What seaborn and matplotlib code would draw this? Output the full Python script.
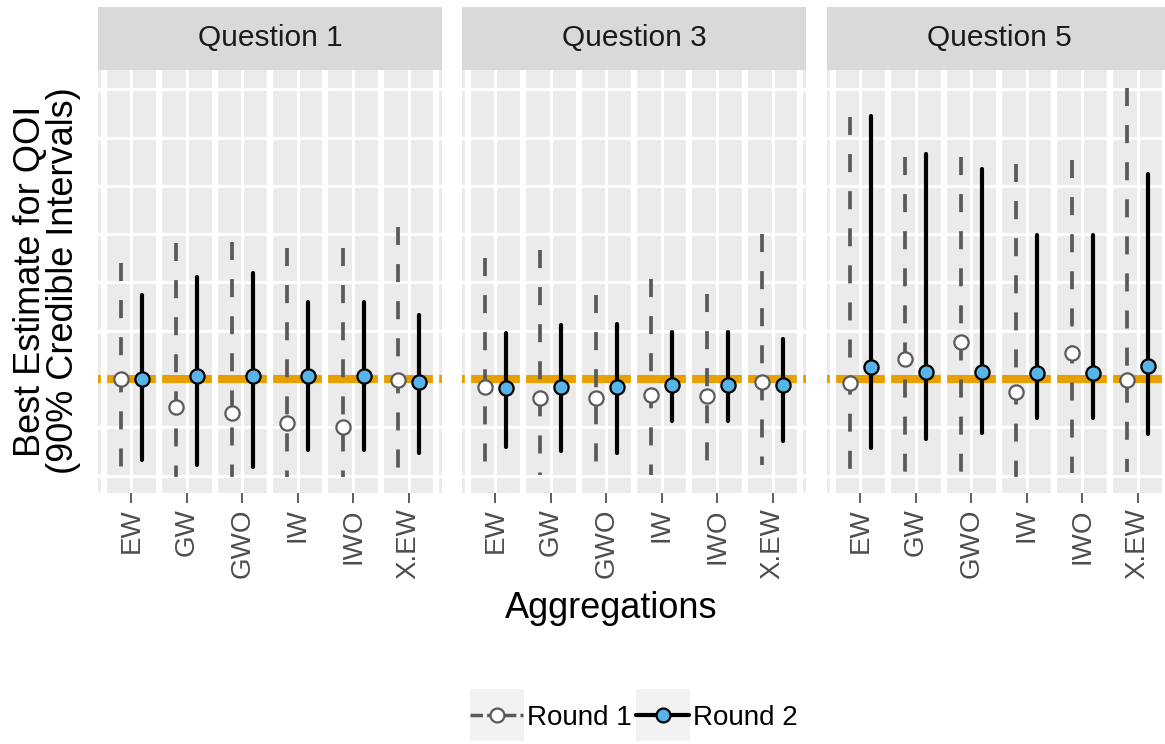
import numpy as np
import pandas as pd
import seaborn as sns
import matplotlib.pyplot as plt
from matplotlib.lines import Line2D
from matplotlib.patches import Rectangle

# data (units: gridline spacing, truth at 0)
questions = ["Question 1", "Question 3", "Question 5"]
aggs = ["EW", "GW", "GWO", "IW", "IWO", "X.EW"]
truth = [0.0, 0.0, 0.0]

r1_est = [[0.01, -0.57, -0.70, -0.90, -0.99, -0.02],
          [-0.16, -0.39, -0.39, -0.33, -0.35, -0.06],
          [-0.08, 0.41, 0.77, -0.26, 0.54, -0.02]]
r1_lo = [[-1.88, -2.03, -2.03, -2.03, -2.03, -1.84],
         [-1.82, -1.99, -1.99, -1.99, -1.99, -1.78],
         [-1.95, -1.99, -1.99, -2.02, -1.95, -1.92]]
r1_hi = [[2.40, 2.82, 2.84, 2.71, 2.71, 3.15],
         [2.50, 2.67, 1.74, 2.07, 1.77, 3.00],
         [5.42, 4.59, 4.60, 4.45, 4.54, 6.02]]

r2_est = [[0.00, 0.06, 0.06, 0.06, 0.06, -0.06],
          [-0.19, -0.17, -0.17, -0.12, -0.12, -0.12],
          [0.24, 0.15, 0.15, 0.12, 0.12, 0.27]]
r2_lo = [[-1.68, -1.78, -1.82, -1.47, -1.47, -1.53],
         [-1.40, -1.50, -1.53, -0.86, -0.86, -1.28],
         [-1.43, -1.25, -1.11, -0.81, -0.81, -1.13]]
r2_hi = [[1.74, 2.12, 2.19, 1.60, 1.60, 1.33],
         [0.95, 1.12, 1.15, 0.98, 0.98, 0.82],
         [5.45, 4.66, 4.34, 2.98, 2.98, 4.24]]

ORANGE = "#EA9F00"
BLUE = "#56B4E9"
GRAY = "#5A5A5A"

rows = []
for qi, q in enumerate(questions):
    for rnd, est, lo, hi in [("Round 1", r1_est, r1_lo, r1_hi), ("Round 2", r2_est, r2_lo, r2_hi)]:
        for ai, a in enumerate(aggs):
            rows.append(dict(question=q, round=rnd, agg=a, est=est[qi][ai],
                             lo=lo[qi][ai], hi=hi[qi][ai], truth=truth[qi]))
df = pd.DataFrame(rows)
agg_pos = {a: i for i, a in enumerate(aggs)}
offsets = {"Round 1": -0.19, "Round 2": 0.19}
df["xpos"] = df["agg"].map(agg_pos) + df["round"].map(offsets)

sns.set_style("darkgrid", {"axes.facecolor": "#EBEBEB", "grid.color": "white"})
plt.rcParams['font.family'] = ['Liberation Sans', 'DejaVu Sans']
plt.rcParams['lines.scale_dashes'] = False


def draw_panel(data, **kws):
    ax = plt.gca()
    ax.axhline(data["truth"].iloc[0], color=ORANGE, lw=5.8, zorder=1.5)
    for b in np.arange(-0.5, len(aggs), 1):
        ax.axvline(b, color="white", lw=4.5, zorder=1.8)
    r1 = data[data["round"] == "Round 1"]
    r2 = data[data["round"] == "Round 2"]
    for x, lo, hi in zip(r1["xpos"], r1["lo"], r1["hi"]):
        ax.plot([x, x], [hi, lo], color=GRAY, lw=2.7, ls=(0, (13, 13.7)), zorder=2)
    for x, lo, hi in zip(r2["xpos"], r2["lo"], r2["hi"]):
        ax.plot([x, x], [hi, lo], color="black", lw=3.0, zorder=2.1)
    sns.scatterplot(data=r1, x="xpos", y="est", color="white", edgecolor=GRAY,
                    linewidth=1.6, s=105, zorder=3, ax=ax)
    sns.scatterplot(data=r2, x="xpos", y="est", color=BLUE, edgecolor="black",
                    linewidth=1.6, s=105, zorder=3, ax=ax)


g = sns.FacetGrid(df, col="question", col_order=questions, sharey=True, sharex=True)
g.map_dataframe(draw_panel)
g.set_titles("")
g.set_axis_labels("", "")

fig = g.figure
fig.set_size_inches(11.65, 7.44)
fig.set_dpi(100)
W, H = 1165, 744
lefts = [98, 462, 827]
for ax, left, q in zip(g.axes.flat, lefts, questions):
    ax.set_position([left / W, (H - 493) / H, 344 / W, 423 / H])
    ax.set_xlim(-0.6, len(aggs) - 0.4)
    ax.set_ylim(-2.36, 6.40)
    ax.set_yticks(range(-2, 7))
    ax.set_xticks(range(len(aggs)))
    ax.set_xticklabels(aggs, rotation=90)
    ax.grid(True, color="white", lw=2.2)
    ax.tick_params(axis="y", left=False, labelleft=False)
    ax.tick_params(axis="x", bottom=True, length=7, width=1.1, color="#333333",
                   labelcolor="#4D4D4D", labelsize=20, pad=4)
    for s in ax.spines.values():
        s.set_visible(False)
    ax.set_xlabel("")
    ax.set_ylabel("")
    strip_h = 63 / 423
    ax.add_patch(Rectangle((0, 1), 1, strip_h, transform=ax.transAxes,
                           facecolor="#D9D9D9", edgecolor="none", clip_on=False))
    ax.text(0.5, 1 + strip_h / 2, q, transform=ax.transAxes, ha="center",
            va="center", fontsize=21.5, color="#1A1A1A")

fig.text(611 / W, 1 - 608 / H, "Aggregations", ha="center", va="center",
         fontsize=26, color="black")
fig.text(47 / W, 1 - 281 / H, "Best Estimate for QOI\n(90% Credible Intervals)",
         rotation=90, ha="center", va="center", fontsize=26, linespacing=0.95,
         color="black")

handles = [
    Line2D([], [], color=GRAY, lw=2.5, ls=(0, (9, 3)), marker="o", markersize=10,
           markerfacecolor="white", markeredgecolor=GRAY, markeredgewidth=1.6),
    Line2D([], [], color="black", lw=3.0, marker="o", markersize=10,
           markerfacecolor=BLUE, markeredgecolor="black", markeredgewidth=1.6),
]
leg = fig.legend(handles, ["Round 1", "Round 2"], loc="center",
                 bbox_to_anchor=(634 / W, 1 - 718 / H), ncol=2, frameon=False,
                 fontsize=20, handlelength=1.9, handletextpad=0.15, columnspacing=0.15)
for t in leg.get_texts():
    t.set_color("black")
fig.canvas.draw()
renderer = fig.canvas.get_renderer()
for h in leg.legend_handles:
    bb = h.get_window_extent(renderer)
    cx, cy = (bb.x0 + bb.x1) / 2, (bb.y0 + bb.y1) / 2
    fig.patches.append(Rectangle(((cx - 27) / W, (cy - 26) / H), 54 / W, 52 / H,
                                 transform=fig.transFigure, facecolor="#F2F2F2",
                                 edgecolor="none", zorder=0.5))

fig.savefig("out.png", dpi=100)
